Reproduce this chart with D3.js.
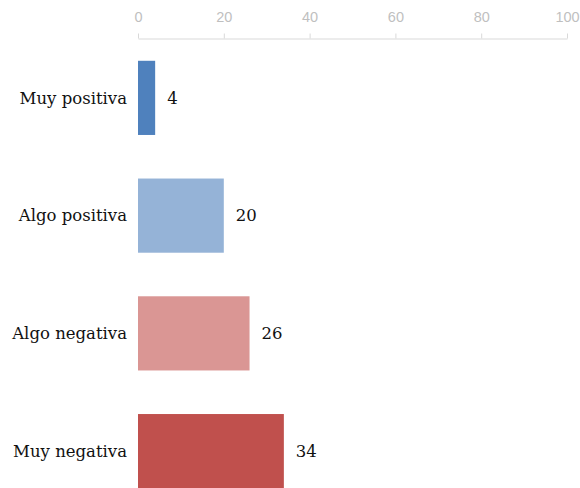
<!DOCTYPE html>
<html>
<head>
<meta charset="utf-8">
<script src="https://cdn.jsdelivr.net/npm/d3@7"></script>
<style>
  body { margin: 0; background: #fff; }
</style>
</head>
<body>
<div id="chart"></div>
<script>
const categories = ["Muy positiva", "Algo positiva", "Algo negativa", "Muy negativa"];
const values = [4, 20, 26, 34];
const colors = ["#4F81BD", "#95B3D7", "#DA9694", "#C0504D"];
const ticks = [0, 20, 40, 60, 80, 100];

const width = 580, height = 488;

const svg = d3.select("#chart")
  .append("svg")
  .attr("width", width)
  .attr("height", height);

const x = d3.scaleLinear().domain([0, 100]).range([138, 567]);
const y = d3.scaleBand()
  .domain(categories)
  .range([39, 510])
  .paddingInner(0.37)
  .paddingOuter(0.185);

// top axis
const axis = svg.append("g")
  .attr("transform", "translate(0,38.5)")
  .call(d3.axisTop(x).tickValues(ticks).tickSize(5).tickPadding(12).tickSizeOuter(0));
axis.select(".domain").attr("stroke", "#D9D9D9");
axis.selectAll(".tick line").attr("stroke", "#D9D9D9");
axis.selectAll(".tick text")
  .attr("fill", "#BFBFBF")
  .style("font-family", "'Liberation Sans', Arial, sans-serif")
  .style("font-size", "14.5px");

// bars
svg.append("g")
  .selectAll("rect")
  .data(values)
  .join("rect")
  .attr("x", x(0))
  .attr("y", (d, i) => y(categories[i]))
  .attr("width", (d) => x(d) - x(0))
  .attr("height", y.bandwidth())
  .attr("fill", (d, i) => colors[i]);

// category labels
svg.append("g")
  .selectAll("text")
  .data(categories)
  .join("text")
  .attr("x", 127)
  .attr("y", (d) => y(d) + y.bandwidth() / 2)
  .attr("dy", "0.35em")
  .attr("text-anchor", "end")
  .style("font-family", "'DejaVu Serif', serif")
  .style("font-size", "16.5px")
  .attr("fill", "#111")
  .text((d) => d);

// value labels
svg.append("g")
  .selectAll("text")
  .data(values)
  .join("text")
  .attr("x", (d) => x(d) + 12)
  .attr("y", (d, i) => y(categories[i]) + y.bandwidth() / 2)
  .attr("dy", "0.35em")
  .style("font-family", "'DejaVu Serif', serif")
  .style("font-size", "16.5px")
  .attr("fill", "#111")
  .text((d) => d);
</script>
</body>
</html>
